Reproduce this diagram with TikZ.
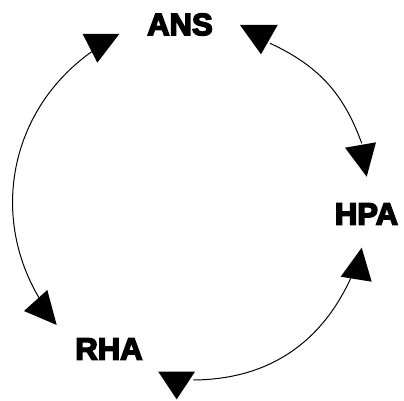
\documentclass[tikz,border=0pt]{standalone}
\usepackage{fontspec}
\newfontfamily\labelfont[FakeBold=5]{Liberation Sans Bold}
\begin{document}
\begin{tikzpicture}[x=1pt,y=1pt,
  lbl/.style={inner sep=0pt,font=\labelfont\fontsize{31}{32}\selectfont},
  conn/.style={line width=1pt},
  head/.style={fill=black}]
\useasboundingbox (0,0) rectangle (404,400);
% labels
\node[lbl] (ans) at (180,375.5) {ANS};
\node[lbl] (hpa) at (366.5,186) {HPA};
\node[lbl] (rha) at (109,51) {RHA};
% arc end points
\coordinate (a1) at (91.7,348.3);
\coordinate (a2) at (39.3,101.7);
\coordinate (b1) at (270,356.7);
\coordinate (b2) at (361.7,256.7);
\coordinate (c1) at (350.7,121.7);
\coordinate (c2) at (193.3,20);
% arcs
\draw[conn] (a1) to[bend right=42.7] (a2);
\draw[conn] (b1) to[bend left=22.7] (b2);
\draw[conn] (c1) to[bend left=32.4] (c2);
% arrow heads
\fill[head] (82.7,366) -- (119.3,366) -- (97.3,337.3) -- cycle;
\fill[head] (240,375) -- (277.7,375) -- (261,345.7) -- cycle;
\fill[head] (345,252.3) -- (376,257.7) -- (366.7,223.3) -- cycle;
\fill[head] (361.7,152.3) -- (340.7,123.3) -- (371.7,118.3) -- cycle;
\fill[head] (47.3,110) -- (24,89) -- (56.7,75) -- cycle;
\fill[head] (158.3,28.3) -- (195,28.3) -- (176.7,0.7) -- cycle;
\end{tikzpicture}
\end{document}
